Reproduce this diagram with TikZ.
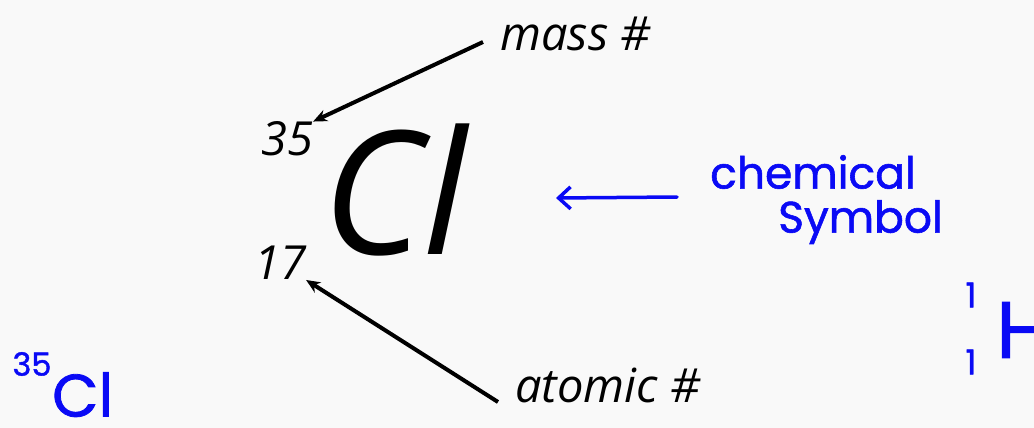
\documentclass[tikz,border=0pt]{standalone}
\usepackage{fontspec}
\setmainfont{Open Sans}
\newfontfamily\hand{Poppins}[FakeBold=1.3]
\usetikzlibrary{arrows.meta}
\definecolor{bg}{RGB}{249,249,249}
\definecolor{ink}{RGB}{10,10,245}
\tikzset{
  lbl/.style={inner sep=0pt, font=\itshape\fontsize{47}{50}\selectfont},
  blk/.style={line width=4pt, -{Stealth[length=14pt,width=12pt]}},
  handtxt/.style={inner sep=0pt, text=ink, font=\hand\fontsize{44}{48}\selectfont},
  handarrow/.style={ink, line width=3.5pt, line cap=round, -{Straight Barb[length=12pt,width=22pt,line width=3.5pt]}}
}
\begin{document}
\begin{tikzpicture}[x=1pt,y=-1pt]
\useasboundingbox (0,0) rectangle (1034,428);
\fill[bg] (0,0) rectangle (1034,428);
\clip (0,0) rectangle (1034,428);
% main symbol
\node[inner sep=0pt, font=\itshape\fontsize{172}{174}\selectfont] (cl) at (395,190) {Cl};
\node[lbl] (n35) at (287,139) {35};
\node[lbl] (n17) at (280,263) {17};
\node[lbl, anchor=west] (mass) at (500,34) {mass \#};
\node[lbl, anchor=west] (atomic) at (515,385) {atomic \#};
\coordinate (massS) at (483,42);
\coordinate (atomS) at (498,402);
\draw[blk] (massS) -- (n35.north east);
\draw[blk] (atomS) -- (n17.south east);
% handwritten annotations
\node[handtxt, anchor=west] (chem) at (710,172) {chemical};
\node[handtxt, anchor=west] (sym) at (778,222) {Symbol};
\coordinate (ca) at (677,197);
\coordinate (cb) at (556,198);
\draw[handarrow] (ca) -- (cb);
\node[inner sep=0pt, text=ink, font=\hand\fontsize{32}{34}\selectfont] (s35) at (32,364) {35};
\node[inner sep=0pt, text=ink, font=\hand\fontsize{60}{64}\selectfont, anchor=north west] (scl) at (52,372) {Cl};
\node[inner sep=0pt, text=ink, font=\hand\fontsize{34}{36}\selectfont] (h1a) at (971,295) {1};
\node[inner sep=0pt, text=ink, font=\hand\fontsize{34}{36}\selectfont] (h1b) at (971,362) {1};
\node[inner sep=0pt, text=ink, font=\hand\fontsize{80}{84}\selectfont, anchor=west] (hh) at (996,330) {H};
\end{tikzpicture}
\end{document}
